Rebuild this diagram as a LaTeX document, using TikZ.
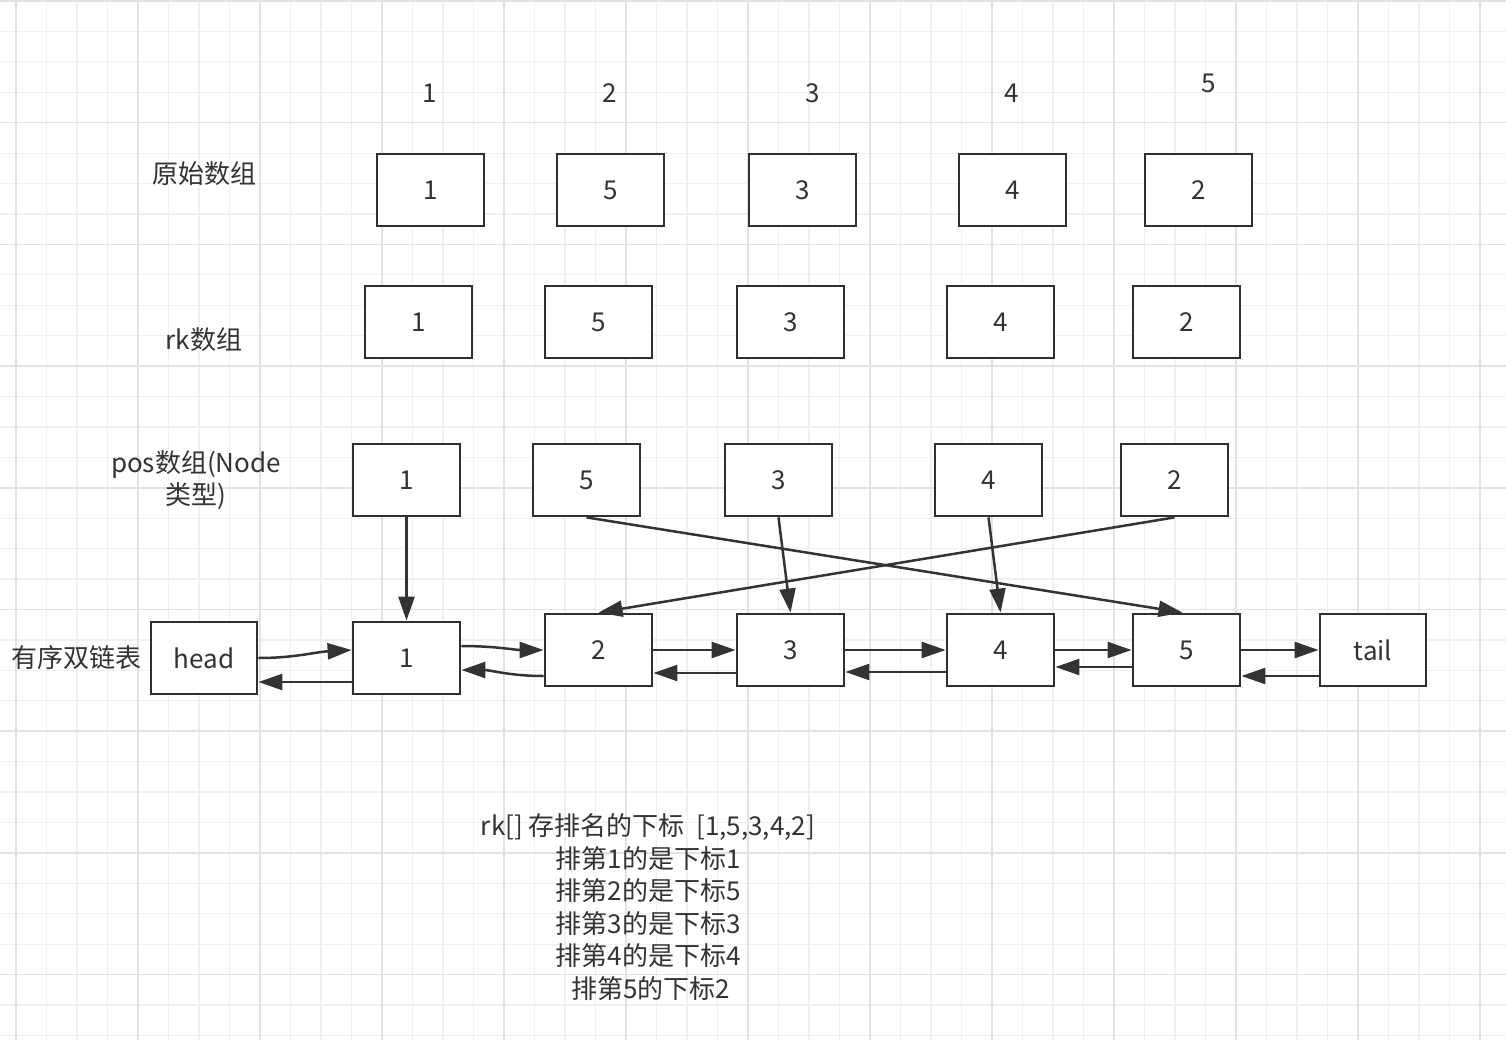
\documentclass[tikz,border=0pt]{standalone}
\usepackage{fontspec}
\setmainfont{Noto Sans CJK SC}
\usetikzlibrary{arrows.meta}
\definecolor{gridmaj}{HTML}{E2E2E2}
\definecolor{gridmin}{HTML}{F0F0F0}
\definecolor{boxc}{HTML}{2C3033}
\definecolor{txtc}{HTML}{333333}
\definecolor{arrc}{HTML}{333333}
\newcommand{\fsz}{\fontsize{26}{32.5}\selectfont}
\tikzset{
  cell/.style={draw=boxc, line width=2.8pt, minimum width=107pt, minimum height=72pt, inner sep=0pt, fill=white, font=\fsz, text=txtc},
  lbl/.style={font=\fsz, text=txtc, inner sep=0pt, align=center},
  arr/.style={-{Triangle[length=24pt,width=16pt]}, line width=2.5pt, draw=arrc},
  mingrid/.style={draw=gridmin, line width=1.2pt},
  majgrid/.style={draw=gridmaj, line width=1.6pt}
}
\begin{document}
\begin{tikzpicture}[x=1pt,y=-1pt]
\useasboundingbox (0,0) rectangle (1506,1040);
\fill[white] (0,0) rectangle (1506,1040);
% grid
\foreach \k in {-1,...,49} \draw[mingrid] ({16+30.5*\k},0) -- ({16+30.5*\k},1040);
\foreach \k in {0,...,34} \draw[mingrid] (0,{1+30.425*\k}) -- (1506,{1+30.425*\k});
\foreach \k in {0,...,12} \draw[majgrid] ({16+122*\k},0) -- ({16+122*\k},1040);
\foreach \k in {0,...,8} \draw[majgrid] (0,{1+121.7*\k}) -- (1506,{1+121.7*\k});

% index labels
\node[lbl] (i1) at (430,93) {1};
\node[lbl] (i2) at (610,93) {2};
\node[lbl] (i3) at (813,93) {3};
\node[lbl] (i4) at (1012,93) {4};
\node[lbl] (i5) at (1209,83) {5};

% row labels
\node[lbl] (lorig) at (204,174) {原始数组};
\node[lbl] (lrk) at (204,340) {rk数组};
\node[lbl] (lpos) at (196,480) {pos数组(Node\\类型)};
\node[lbl] (llist) at (76,658) {有序双链表};

% original array
\node[cell] (o1) at (430.5,190) {1};
\node[cell] (o2) at (610.5,190) {5};
\node[cell] (o3) at (802.5,190) {3};
\node[cell] (o4) at (1012.5,190) {4};
\node[cell] (o5) at (1198.5,190) {2};

% rk array
\node[cell] (r1) at (418.5,322) {1};
\node[cell] (r2) at (598.5,322) {5};
\node[cell] (r3) at (790.5,322) {3};
\node[cell] (r4) at (1000.5,322) {4};
\node[cell] (r5) at (1186.5,322) {2};

% pos array
\node[cell] (p1) at (406.5,480) {1};
\node[cell] (p5) at (586.5,480) {5};
\node[cell] (p3) at (778.5,480) {3};
\node[cell] (p4) at (988.5,480) {4};
\node[cell] (p2) at (1174.5,480) {2};

% linked list
\node[cell, minimum width=106pt] (head) at (204,658) {head};
\node[cell] (n1) at (406.5,658) {1};
\node[cell] (n2) at (598.5,650) {2};
\node[cell] (n3) at (790.5,650) {3};
\node[cell] (n4) at (1000.5,650) {4};
\node[cell] (n5) at (1186.5,650) {5};
\node[cell, minimum width=106pt] (tail) at (1373,650) {tail};

% pos -> list
\draw[arr] (p1.south) -- (n1.north);
\draw[arr] (p5.south) -- ([xshift=-4pt]n5.north);
\draw[arr] (p3.south) -- (n3.north);
\draw[arr] (p4.south) -- (n4.north);
\draw[arr] (p2.south) -- (n2.north);

% list links
\draw[arr] (head.east) .. controls (295,658) and (315,652) .. ([yshift=8pt]n1.west);
\draw[arr] ([yshift=-24pt]n1.west) -- ([yshift=-24pt]head.east);
\draw[arr] ([yshift=12pt]n1.east) .. controls (495,646) and (515,650) .. (n2.west);
\draw[arr] ([yshift=-26pt]n2.west) .. controls (510,676) and (490,670) .. ([yshift=-12pt]n1.east);
\draw[arr] (n2.east) -- (n3.west);
\draw[arr] ([yshift=-23pt]n3.west) -- ([yshift=-23pt]n2.east);
\draw[arr] (n3.east) -- (n4.west);
\draw[arr] ([yshift=-22pt]n4.west) -- ([yshift=-22pt]n3.east);
\draw[arr] (n4.east) -- (n5.west);
\draw[arr] ([yshift=-17pt]n5.west) -- ([yshift=-17pt]n4.east);
\draw[arr] (n5.east) -- (tail.west);
\draw[arr] ([yshift=-26pt]tail.west) -- ([yshift=-26pt]n5.east);

% explanation
\node[lbl] (expl) at (648,907) {rk[] 存排名的下标\ \ [1,5,3,4,2]\\排第1的是下标1\\排第2的是下标5\\排第3的是下标3\\排第4的是下标4\\\ 排第5的下标2};
\end{tikzpicture}
\end{document}
